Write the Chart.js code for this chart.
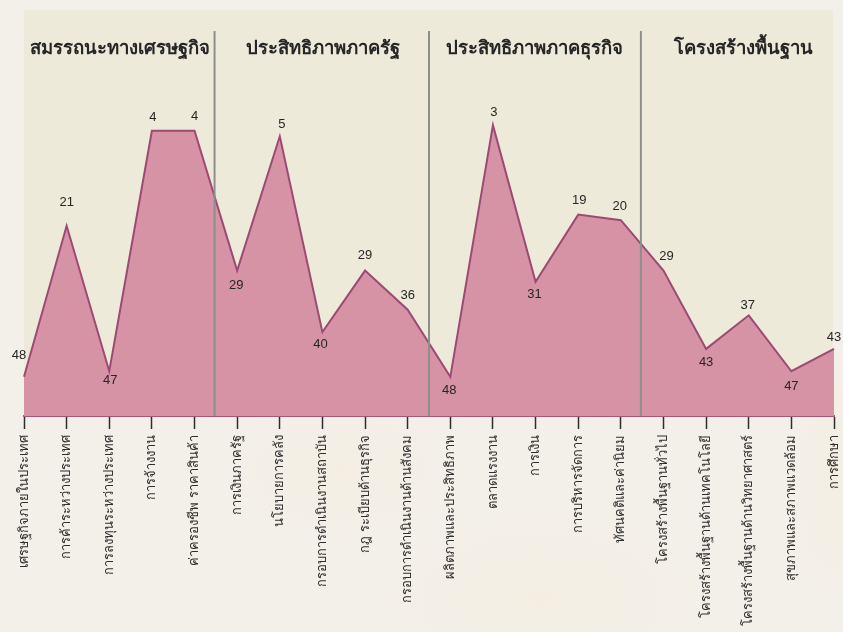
<!DOCTYPE html>
<html>
<head>
<meta charset="utf-8">
<style>
  html, body { margin: 0; padding: 0; background: #f3f0e9; }
  #wrap {
    width: 843px; height: 632px; position: relative; overflow: hidden;
    background:
      radial-gradient(ellipse 110px 70px at 340px 470px, #f4eee2 0%, rgba(244,238,226,0) 100%),
      radial-gradient(ellipse 160px 90px at 540px 600px, #f4eee2 0%, rgba(244,238,226,0) 100%),
      radial-gradient(ellipse 40px 120px at 830px 480px, #f4eee2 0%, rgba(244,238,226,0) 100%),
      #f3f0e9;
  }
  canvas { display: block; }
</style>
<script src="https://cdn.jsdelivr.net/npm/chart.js@4"></script>
</head>
<body>
<div id="wrap"><canvas id="c" width="843" height="632"></canvas></div>
<script>
const categories = [
  "เศรษฐกิจภายในประเทศ","การค้าระหว่างประเทศ","การลงทุนระหว่างประเทศ","การจ้างงาน","ค่าครองชีพ ราคาสินค้า",
  "การเงินภาครัฐ","นโยบายการคลัง","กรอบการดำเนินงานสถาบัน","กฎ ระเบียบด้านธุรกิจ","กรอบการดำเนินงานด้านสังคม",
  "ผลิตภาพและประสิทธิภาพ","ตลาดแรงงาน","การเงิน","การบริหารจัดการ","ทัศนคติและค่านิยม",
  "โครงสร้างพื้นฐานทั่วไป","โครงสร้างพื้นฐานด้านเทคโนโลยี","โครงสร้างพื้นฐานด้านวิทยาศาสตร์","สุขภาพและสภาพแวดล้อม","การศึกษา"
];
const ranks = [48,21,47,4,4,29,5,40,29,36,48,3,31,19,20,29,43,37,47,43];
const sections = ["สมรรถนะทางเศรษฐกิจ","ประสิทธิภาพภาครัฐ","ประสิทธิภาพภาคธุรกิจ","โครงสร้างพื้นฐาน"];
const sectionEnds = [4.47,9.5,14.47];

// label nudges around each point
const labelDx = [-5,0,1,1,0,-1,2,-2,0,0,-1,1,-1,1,-1,3,0,-1,0,0];
const labelDy = [-21,-23,9,-13,-14,15,-12,12,-15,-14,14,-13,13,-14,-14,-14,14,-10,15,-11];
const titleX = [120,323,534,743];

const font = "'Liberation Sans',Arial,sans-serif";

const decor = {
  id: "decor",
  beforeDraw(chart) {
    const { ctx, chartArea: a } = chart;
    ctx.save();
    ctx.fillStyle = "#eeeada";
    ctx.fillRect(24, 10, 809, a.bottom - 10);
    ctx.restore();
  },
  afterDatasetsDraw(chart) {
    const { ctx, chartArea: a, scales: { x } } = chart;
    ctx.save();
    ctx.strokeStyle = "#8c8f8c";
    ctx.lineWidth = 2;
    sectionEnds.forEach((v) => {
      const px = x.getPixelForValue(v);
      ctx.beginPath();
      ctx.moveTo(px, 31);
      ctx.lineTo(px, a.bottom);
      ctx.stroke();
    });
    ctx.fillStyle = "#262626";
    ctx.font = "bold 18.5px " + font;
    ctx.textAlign = "center";
    ctx.textBaseline = "middle";
    sections.forEach((s, i) => ctx.fillText(s, titleX[i], 49));

    ctx.font = "13px " + font;
    ctx.fillStyle = "#262626";
    chart.getDatasetMeta(0).data.forEach((p, i) => {
      ctx.fillText(String(ranks[i]), p.x + labelDx[i], p.y + labelDy[i]);
    });
    ctx.restore();
  }
};

new Chart(document.getElementById("c"), {
  type: "line",
  plugins: [decor],
  data: {
    labels: categories,
    datasets: [{
      data: ranks,
      fill: "start",
      backgroundColor: "#d693a5",
      borderColor: "#9c4a73",
      borderWidth: 2,
      pointRadius: 0,
      tension: 0
    }]
  },
  options: {
    responsive: false,
    animation: false,
    layout: { autoPadding: false, padding: { left: 24, right: 9, top: 11, bottom: 0 } },
    plugins: { legend: { display: false }, tooltip: { enabled: false } },
    scales: {
      x: {
        type: "category",
        offset: false,
        afterFit(scale) {
          scale.height = 216;
          scale.paddingLeft = 0;
          scale.paddingRight = 0;
        },
        grid: { display: true, drawOnChartArea: false, drawTicks: true, tickLength: 13, tickColor: "#2e2e2e", tickWidth: 1.5 },
        border: { color: "#a8557a", width: 2 },
        ticks: { autoSkip: false, minRotation: 90, maxRotation: 90, color: "#2e2e2e", font: { size: 13, family: font }, padding: 6 }
      },
      y: {
        display: false,
        reverse: true,
        min: -17.4,
        max: 55
      }
    }
  }
});
</script>
</body>
</html>
